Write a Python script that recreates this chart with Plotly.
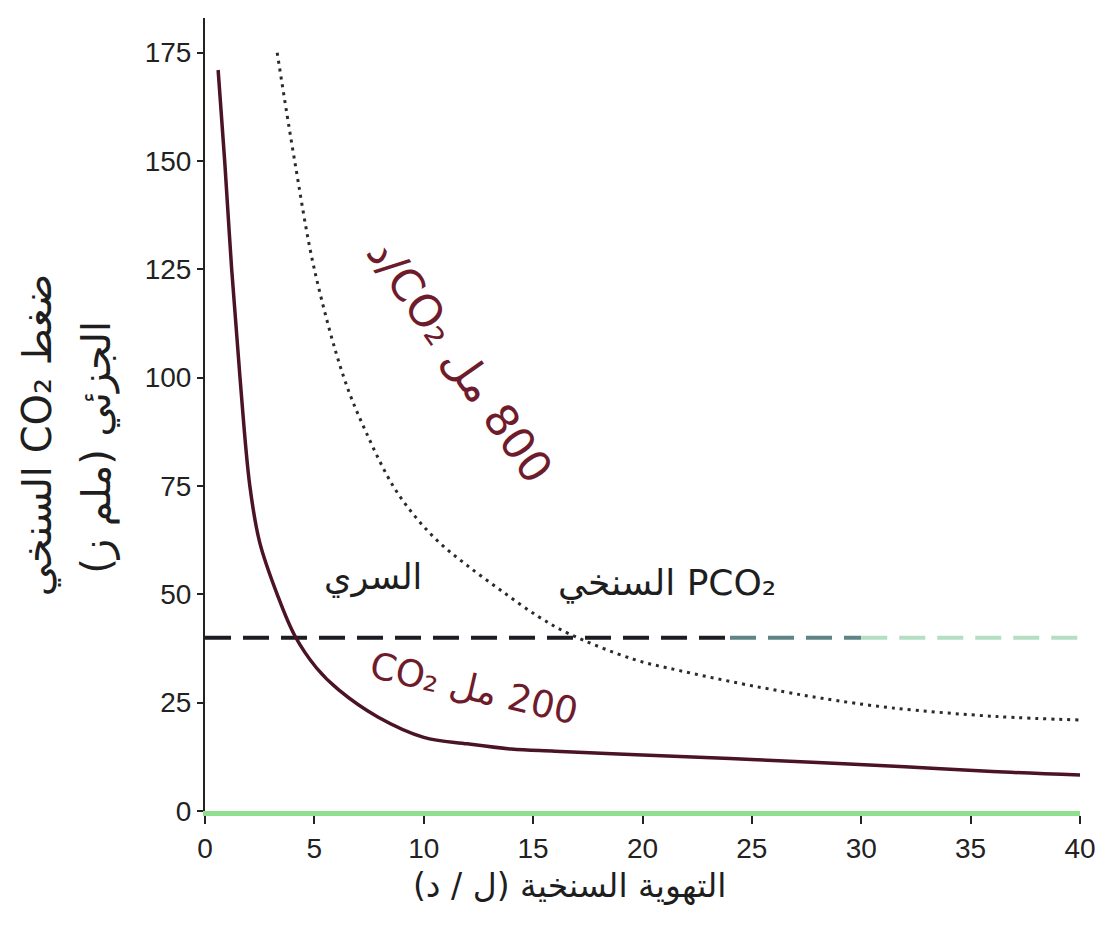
import plotly.graph_objects as go

# Alveolar ventilation (L/min) vs alveolar PCO2 (mmHg) at two CO2 production rates
vent_200 = [0.6, 0.9, 1.22, 1.6, 2.05, 2.5, 3.3, 4.1, 5.1, 6.1, 7.9, 10, 12, 14, 16, 20, 24, 28, 32, 36, 40]
pco2_200 = [171, 150, 125, 100, 75, 62, 50, 40.5, 33, 28, 21.7, 17, 15.5, 14.3, 13.8, 12.9, 12.1, 11.2, 10.2, 9.1, 8.3]

vent_800 = [3.3, 4.1, 5.0, 6.35, 7.4, 8.6, 9.6, 10.7, 11.9, 13.5, 15.2, 16.6, 19.6, 21.7, 24.4, 26.5, 28.2, 31.4, 36.2, 40]
pco2_800 = [175, 150, 125, 100, 87, 75, 68, 62, 57, 51, 45, 41, 35, 32.4, 29.5, 27.5, 26, 23.8, 21.8, 21]

# Normal arterial PCO2 reference level
arterial_pco2 = 40
arterial_x = [0, 24, 30, 40]

x_ticks = [0, 5, 10, 15, 20, 25, 30, 35, 40]
y_ticks = [0, 25, 50, 75, 100, 125, 150, 175]

RLE, PDF = "\u202b", "\u202c"
label_800 = RLE + "800 مل CO₂/د" + PDF
label_200 = RLE + "200 مل CO₂" + PDF
label_arterial = "السري"
label_alveolar = RLE + "PCO₂ السنخي" + PDF
x_title = RLE + "التهوية السنخية (ل / د)" + PDF
y_title_1 = RLE + "ضغط CO₂ السنخي" + PDF
y_title_2 = RLE + "الجزئي (ملم ز)" + PDF

LATIN = "Liberation Sans Narrow, Arial Narrow, Liberation Sans, Arial, sans-serif"
ARABIC = "DejaVu Sans, sans-serif"
RED = "#6e1c2c"
INK = "#1e1e1e"

fig = go.Figure()

# dashed arterial level, fading toward the right
dash_colors = ["#1c1c22", "#5f8484", "#b4dfc2"]
for i, c in enumerate(dash_colors):
    fig.add_trace(go.Scatter(
        x=[arterial_x[i], arterial_x[i + 1]], y=[arterial_pco2, arterial_pco2],
        mode="lines", line=dict(color=c, width=4, dash="26px,12px"),
        hoverinfo="skip", showlegend=False))

fig.add_trace(go.Scatter(
    x=vent_800, y=pco2_800, mode="lines", line_shape="spline",
    line=dict(color="#2a2a2a", width=3, dash="3px,5px"), showlegend=False))

fig.add_trace(go.Scatter(
    x=vent_200, y=pco2_200, mode="lines", line_shape="spline",
    line=dict(color="#4a1424", width=3.5), showlegend=False))

annotations = [
    dict(x=11.66, y=104, xref="x", yref="y", text=label_800, textangle=55,
         showarrow=False, font=dict(family=ARABIC, size=44, color=RED)),
    dict(x=12.3, y=28.2, xref="x", yref="y", text=label_200, textangle=13,
         showarrow=False, font=dict(family=ARABIC, size=37, color=RED)),
    dict(x=7.66, y=54, xref="x", yref="y", text=label_arterial,
         showarrow=False, font=dict(family=ARABIC, size=35, color=INK)),
    dict(x=21.1, y=52.6, xref="x", yref="y", text=label_alveolar,
         showarrow=False, font=dict(family=ARABIC, size=36, color=INK)),
    dict(x=0.417, y=-0.121, xref="paper", yref="paper", text=x_title,
         showarrow=False, font=dict(family=ARABIC, size=33, color=INK)),
    dict(x=-0.221, y=0.474, xref="paper", yref="paper", text=y_title_1, textangle=-90,
         showarrow=False, font=dict(family=ARABIC, size=40, color=INK)),
    dict(x=-0.154, y=0.459, xref="paper", yref="paper", text=y_title_2, textangle=-90,
         showarrow=False, font=dict(family=ARABIC, size=40, color=INK)),
]

fig.update_layout(
    width=1108, height=927,
    margin=dict(l=205, r=21, t=18, b=116),
    paper_bgcolor="white", plot_bgcolor="white",
    annotations=annotations,
    xaxis=dict(range=[0, 40], tickvals=x_ticks, showgrid=False, zeroline=False,
               showline=True, linecolor="#8fdf8f", linewidth=5,
               ticks="outside", ticklen=8, tickwidth=2, tickcolor="#222",
               tickfont=dict(family=LATIN, size=28, color="#222")),
    yaxis=dict(range=[0, 183], tickvals=y_ticks, showgrid=False, zeroline=False,
               showline=True, linecolor="#222", linewidth=2,
               ticks="outside", ticklen=6, tickwidth=2, tickcolor="#222",
               tickfont=dict(family=LATIN, size=28, color="#222")),
)

fig.write_html("out.html")
